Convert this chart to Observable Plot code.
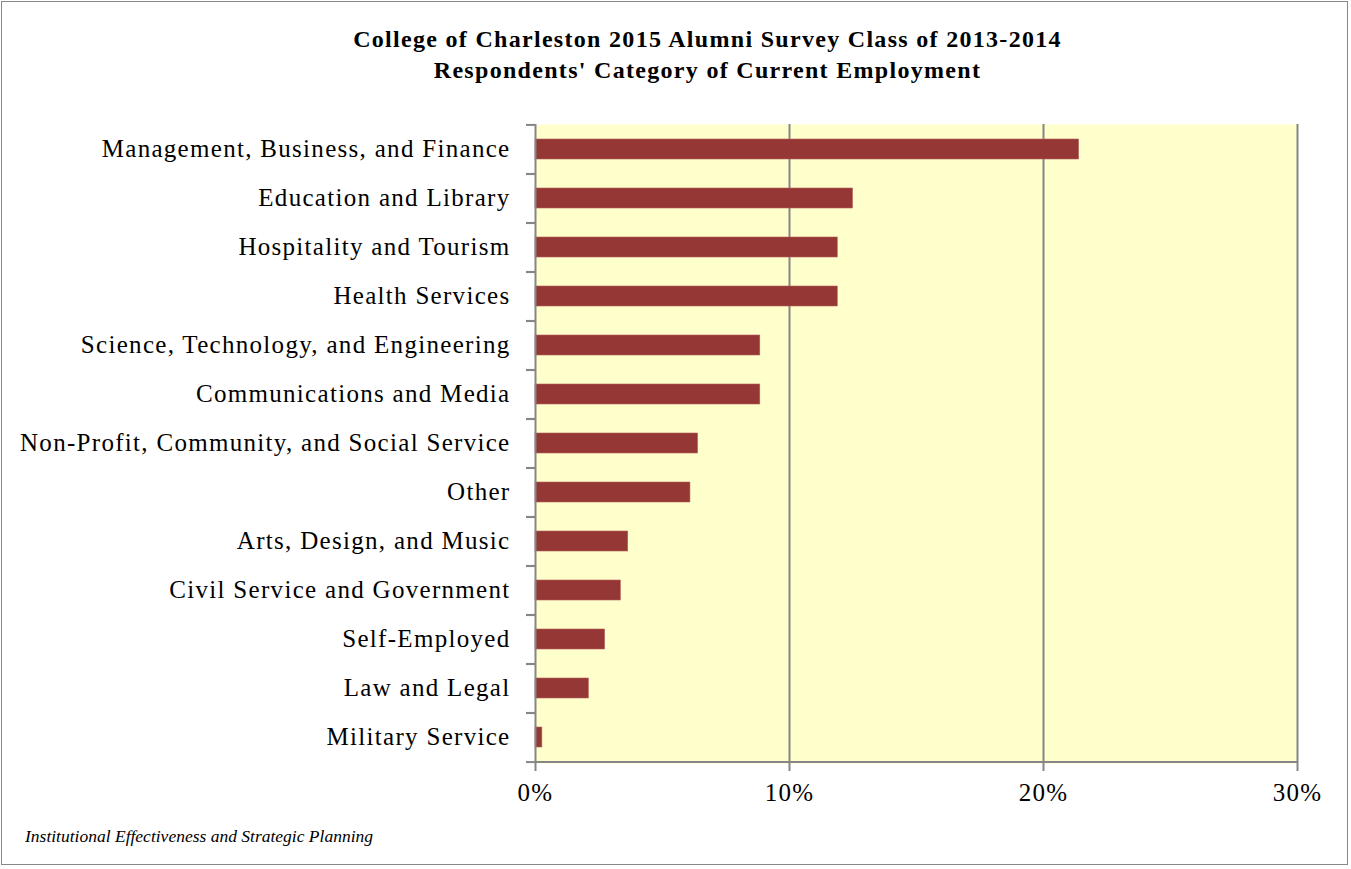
<!DOCTYPE html>
<html>
<head>
<meta charset="utf-8">
<script src="https://cdn.jsdelivr.net/npm/d3@7"></script>
<script src="https://cdn.jsdelivr.net/npm/@observablehq/plot@0.6"></script>
<style>
  html, body { margin: 0; padding: 0; background: #fff; }
  #frame { position: absolute; left: 1px; top: 1px; width: 1347px; height: 864px; border: 1px solid #888; box-sizing: border-box; }
  #title { position: absolute; left: 32px; top: 24px; width: 1351px; text-align: center; font-family: "Liberation Serif", serif; font-weight: bold; font-size: 24px; line-height: 31px; letter-spacing: 1.3px; color: #000; }
  #chart { position: absolute; left: 0; top: 100px; }
  #caption { position: absolute; left: 25px; top: 826px; font-family: "Liberation Serif", serif; font-style: italic; font-size: 17.5px; color: #000; }
</style>
</head>
<body>
<div id="frame"></div>
<div id="title">College of Charleston 2015 Alumni Survey Class of 2013-2014<br>Respondents' Category of Current Employment</div>
<div id="chart"></div>
<div id="caption">Institutional Effectiveness and Strategic Planning</div>
<script>
const categories = [
  "Management, Business, and Finance",
  "Education and Library",
  "Hospitality and Tourism",
  "Health Services",
  "Science, Technology, and Engineering",
  "Communications and Media",
  "Non-Profit, Community, and Social Service",
  "Other",
  "Arts, Design, and Music",
  "Civil Service and Government",
  "Self-Employed",
  "Law and Legal",
  "Military Service"
];
const shares = [0.214, 0.125, 0.119, 0.119, 0.0885, 0.0885, 0.064, 0.061, 0.0365, 0.0336, 0.0274, 0.021, 0.0027];
const xTicks = [0, 0.1, 0.2, 0.3];

const data = categories.map((c, i) => ({category: c, share: shares[i]}));

const W = 1351, H = 740;
const mTop = 24, mBottom = 77, mLeft = 535, mRight = 54;
const step = (H - mTop - mBottom) / categories.length;
const grid = "#868686";

const chart = Plot.plot({
  width: W,
  height: H,
  marginTop: mTop,
  marginBottom: mBottom,
  marginLeft: mLeft,
  marginRight: mRight,
  style: {fontFamily: "Liberation Serif, serif", fontSize: "25px", color: "#000", background: "transparent", letterSpacing: "1.3px"},
  x: {domain: [0, 0.3], ticks: xTicks, tickFormat: d3.format(".0%"), label: null},
  y: {domain: categories, paddingInner: 0.59, paddingOuter: 0.295, label: null},
  marks: [
    Plot.frame({fill: "#FFFFCC", stroke: null}),
    Plot.gridX(xTicks.slice(1), {stroke: grid, strokeOpacity: 1, strokeWidth: 2}),
    Plot.barX(data, {x: "share", y: "category", fill: "#953735", stroke: "#B2605E", strokeWidth: 0.6}),
    Plot.ruleX([0], {stroke: grid, strokeWidth: 2}),
    Plot.ruleY([0], {y: () => categories[categories.length - 1], dy: step / 2, stroke: grid, strokeWidth: 2}),
    Plot.axisY({tickSize: 0, tickPadding: 25, fontSize: 25, dy: -1, label: null}),
    Plot.axisY({tickSize: 9, text: null, dy: step / 2, stroke: grid, strokeWidth: 2, label: null}),
    Plot.axisY({tickSize: 9, text: null, dy: -step / 2, stroke: grid, strokeWidth: 2, label: null}),
    Plot.axisX({ticks: xTicks, tickFormat: d3.format(".0%"), tickSize: 8, tickPadding: 12, stroke: grid, strokeWidth: 2, fontSize: 25, label: null})
  ]
});
document.getElementById("chart").appendChild(chart);
</script>
</body>
</html>
